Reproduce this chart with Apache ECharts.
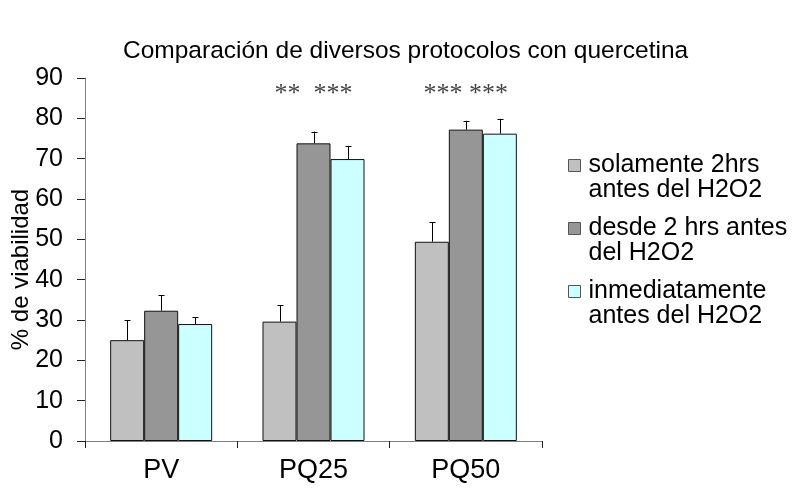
<!DOCTYPE html>
<html>
<head>
<meta charset="utf-8">
<script src="https://cdn.jsdelivr.net/npm/echarts@6/dist/echarts.min.js"></script>
<style>html,body{margin:0;padding:0;background:#fff}#c{width:796px;height:491px}</style>
</head>
<body>
<div id="c"></div>
<script>
// ---- data ----
const title = 'Comparación de diversos protocolos con quercetina';
const yAxisName = '% de viabilidad';
const categories = ['PV', 'PQ25', 'PQ50'];
const seriesNames = ['solamente 2hrs\nantes del H2O2', 'desde 2 hrs antes\ndel H2O2', 'inmediatamente\nantes del H2O2'];
const solamente = [25.0, 29.6, 49.4];
const desde = [32.3, 73.8, 77.2];
const inmediatamente = [29.0, 69.9, 76.2];
const solamenteErr = [4.9, 4.1, 4.9];
const desdeErr = [3.9, 2.9, 2.2];
const inmediatamenteErr = [1.7, 3.3, 3.7];
const significance = ['', '**  ***', '*** ***'];
const significanceLevel = 86;
const yTicks = { min: 0, max: 90, interval: 10 };

// ---- styles ----
const colors = ['#C0C0C0', '#969696', '#CCFFFF'];
const FONT = 'Liberation Sans, Arial, sans-serif';
const BAR_W = 34;
const values = [solamente, desde, inmediatamente];
const errs = [solamenteErr, desdeErr, inmediatamenteErr];

const chart = echarts.init(document.getElementById('c'), null, { renderer: 'canvas' });

const series = [];
values.forEach((vals, s) => {
  series.push({
    name: seriesNames[s],
    type: 'bar',
    data: vals,
    barWidth: BAR_W,
    barGap: '0%',
    itemStyle: { color: colors[s], borderColor: '#111', borderWidth: 1 },
    emphasis: { disabled: true },
    z: 2
  });
});
values.forEach((vals, s) => {
  series.push({
    type: 'custom',
    data: vals.map((v, i) => [i, v, errs[s][i]]),
    encode: { x: 0, y: 1 },
    z: 3,
    silent: true,
    renderItem: function (params, api) {
      const i = api.value(0), m = api.value(1), e = api.value(2);
      const off = (s - 1) * BAR_W;
      const p0 = api.coord([i, m]);
      const p1 = api.coord([i, m + e]);
      const x = Math.round(p0[0] + off) + 0.5;
      const style = { stroke: '#000', lineWidth: 1 };
      return {
        type: 'group',
        children: [
          { type: 'line', shape: { x1: x, y1: p0[1], x2: x, y2: p1[1] }, style: style },
          { type: 'line', shape: { x1: x - 3, y1: Math.round(p1[1]) + 0.5, x2: x + 3, y2: Math.round(p1[1]) + 0.5 }, style: style }
        ]
      };
    }
  });
});
series.push({
  type: 'custom',
  data: significance.map((t, i) => [i, significanceLevel, t]),
  encode: { x: 0, y: 1 },
  z: 4,
  silent: true,
  renderItem: function (params, api) {
    const i = api.value(0);
    const p = api.coord([i, api.value(1)]);
    return {
      type: 'text',
      style: {
        x: p[0], y: p[1],
        text: significance[i],
        align: 'center', verticalAlign: 'middle',
        font: '26px Liberation Serif, Times New Roman, serif',
        fill: '#444'
      }
    };
  }
});

chart.setOption({
  animation: false,
  backgroundColor: '#ffffff',
  title: {
    text: title,
    left: 118,
    top: 34,
    textStyle: { fontFamily: FONT, fontSize: 24.5, fontWeight: 'normal', color: '#000' }
  },
  legend: {
    data: seriesNames,
    orient: 'vertical',
    left: 568,
    top: 128,
    padding: 0,
    itemGap: -12,
    itemWidth: 12,
    itemHeight: 12,
    icon: 'rect',
    selectedMode: false,
    formatter: function (name) { return ' \n' + name; },
    itemStyle: { borderColor: '#555', borderWidth: 1 },
    textStyle: { fontFamily: FONT, fontSize: 25, lineHeight: 25, color: '#000', padding: [0, 0, 0, 3] }
  },
  grid: { left: 85, right: 254, top: 78, bottom: 50, containLabel: false, outerBoundsMode: 'none' },
  xAxis: {
    type: 'category',
    data: categories,
    axisLine: { show: true, lineStyle: { color: '#808080', width: 1 } },
    axisTick: { show: true, length: 7, lineStyle: { color: '#222' } },
    axisLabel: { fontFamily: FONT, fontSize: 27, color: '#000', margin: 16 },
    splitLine: { show: false }
  },
  yAxis: {
    type: 'value',
    min: yTicks.min,
    max: yTicks.max,
    interval: yTicks.interval,
    name: yAxisName,
    nameLocation: 'middle',
    nameRotate: 90,
    nameGap: 52,
    nameMoveOverlap: false,
    nameTextStyle: { fontFamily: FONT, fontSize: 24, color: '#000', padding: [0, 20, 0, 0] },
    axisLine: { show: true, lineStyle: { color: '#808080', width: 1 } },
    axisTick: { show: true, length: 8, lineStyle: { color: '#222' } },
    axisLabel: { fontFamily: FONT, fontSize: 25, color: '#000', margin: 22 },
    splitLine: { show: false }
  },
  series: series
});
</script>
</body>
</html>
